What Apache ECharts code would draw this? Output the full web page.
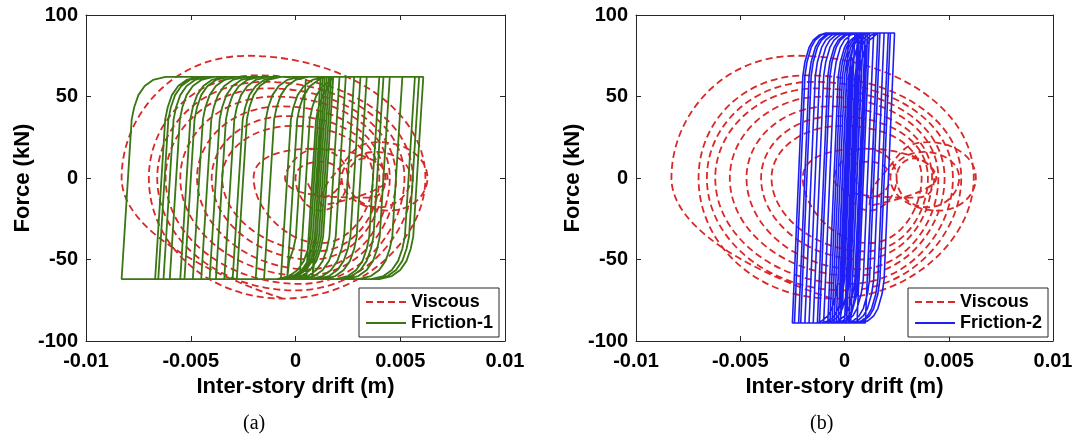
<!DOCTYPE html>
<html>
<head>
<meta charset="utf-8">
<script src="https://cdn.jsdelivr.net/npm/echarts@6.0.0/dist/echarts.min.js"></script>
<style>
html,body{margin:0;padding:0;background:#fff;}
#chart{width:1076px;height:437px;}
</style>
</head>
<body>
<div id="chart"></div>
<script>
// ---- axis settings ----
const xRange = [-0.01, 0.01];
const xStep = 0.005;
const yRange = [-100, 100];
const yStep = 50;
const xTitle = 'Inter-story drift (m)';
const yTitle = 'Force (kN)';
const panelCaptions = ['(a)', '(b)'];
const legendA = ['Viscous', 'Friction-1'];
const legendB = ['Viscous', 'Friction-2'];

// ---- viscous damper loops: turning points (left, top, right, bottom) ----
const viscousTurns = [
  [-0.0006, -74],
  [-0.0083, 0], [-0.0023, 75], [0.0062, 0], [-0.0006, -74],
  [-0.0070, 0], [-0.0018, 63], [0.0056, 0], [0.0000, -69],
  [-0.0066, 0], [-0.0015, 59], [0.0052, 0], [0.0002, -65],
  [-0.0062, 0], [-0.0013, 55], [0.0048, 0], [0.0004, -60],
  [-0.0055, 0], [-0.0010, 50], [0.0045, 0], [0.0006, -56],
  [-0.0047, 0], [-0.0007, 44], [0.0042, 0], [0.0008, -50],
  [-0.0040, 0], [-0.0004, 38], [0.0040, 0], [0.0010, -45],
  [-0.0035, 0], [-0.0001, 32], [0.0037, 0], [0.0012, -40],
  [-0.0020, 0], [0.0010, 18], [0.0044, 0], [0.0012, -17],
  [0.0017, 0], [0.0040, 22], [0.0063, 0], [0.0045, -20],
  [0.0022, 0], [0.0038, 16], [0.0055, 0], [0.0040, -18],
  [0.0025, 0], [0.0033, 12], [0.0043, 0], [0.0035, -12],
  [-0.0005, 0], [0.0010, 18], [0.0025, 0], [0.0012, -20],
  [0.0000, 0], [0.0012, 10], [0.0022, 0], [0.0012, -12], [0.0005, 0]
];

// ---- friction damper 1: slip force and reversal points ----
const friction1Force = 62;
const friction1Turns = [
  [0.0002, -62], [0.0018, 62], [-0.0007, -62], [0.0024, 62], [-0.0015, -62], [0.0034, 62],
  [-0.0030, -62], [0.0051, 62], [-0.0055, -62], [0.0061, 62], [-0.0083, -62], [0.0057, 62],
  [-0.0067, -62], [0.0059, 62], [-0.0063, -62], [0.0045, 62], [-0.0060, -62], [0.0042, 62],
  [-0.00655, -62], [0.0040, 62], [-0.0053, -62], [0.0031, 62], [-0.0049, -62], [0.0028, 62],
  [-0.0045, -62], [0.0021, 62], [-0.0041, -62], [0.0015, 62], [-0.0038, -62], [0.0012, 62],
  [-0.0034, -62], [0.0016, 62], [-0.0028, -62], [0.0014, 62], [-0.0019, -62], [0.0005, 62],
  [-0.0004, -62], [0.0013, 62], [0.0005, -62], [0.0017, 62], [0.0008, -62], [0.0014, 62],
  [0.0009, -40], [0.0013, 42], [0.0010, -10]
];
// branch shape after a reversal (drift offset, fraction of the force range), read from the outer loop
const friction1Knee = [[0, 0], [0.00048, 0.79], [0.0006, 0.85], [0.0008, 0.91], [0.0011, 0.955], [0.0015, 0.985], [0.0021, 1]];

// ---- friction damper 2 ----
const friction2Force = 89;
const friction2Turns = [
  [-0.0002, -89], [0.0012, 89], [-0.0007, -89], [0.0017, 89], [-0.0013, -89], [0.0021, 89],
  [-0.0019, -89], [0.0024, 89], [-0.0025, -89], [0.0022, 89], [-0.0024, -89], [0.0019, 89],
  [-0.0022, -89], [0.0014, 89], [-0.0021, -89], [0.0010, 89], [-0.0017, -89], [0.0007, 89],
  [-0.0015, -89], [0.0005, 89], [-0.0012, -89], [0.0012, 89], [-0.0010, -89], [0.0017, 89],
  [-0.0005, -89], [0.0014, 89], [0.0000, -89], [0.0019, 89], [-0.0008, -89], [0.0002, 89],
  [-0.0013, -89], [0.0010, 89], [0.0005, -61], [0.0010, 80], [0.0002, -89], [0.0016, 89],
  [0.0011, -62], [0.0015, 60], [0.0001, -89], [0.0009, 89], [0.0004, -60], [0.0008, 64],
  [-0.0004, -89], [0.0011, 89], [0.0006, -62], [0.0011, 86], [-0.0003, -89], [0.0004, 70],
  [-0.0001, -80], [0.0004, 74], [-0.0006, -89], [0.0008, 89], [0.0003, -60], [0.0007, 60],
  [0.0002, -60], [0.0007, 85], [0.0001, -85], [0.0006, 70], [0.0001, -75], [0.0005, 50],
  [0.0001, -70], [0.0012, 89], [0.0007, -60], [0.0011, 60], [-0.0003, -89], [0.0003, 72],
  [-0.0002, -80], [0.0009, 89]
];
const friction2Knee = [[0, 0], [0.0005, 0.85], [0.0006, 0.9], [0.0008, 0.95], [0.001, 0.975], [0.0013, 0.993], [0.0016, 1]];

// build the friction path table from reversal points + branch shape
function buildFrictionPath(turns, knee, force) {
  const path = [turns[0].slice()];
  for (let i = 0; i < turns.length - 1; i++) {
    const x0 = turns[i][0], y0 = turns[i][1];
    const x1 = turns[i + 1][0], y1 = turns[i + 1][1];
    const s = x1 > x0 ? 1 : -1;
    for (let k = 1; k < knee.length; k++) {
      const x = x0 + s * knee[k][0];
      let y = y0 + s * knee[k][1] * 2 * force;
      y = Math.max(-force, Math.min(force, y));
      if (s * (x - x1) >= 0 || s * (y - y1) > 1e-9) break;
      path.push([x, y]);
    }
    path.push([x1, y1]);
  }
  return path;
}

const RED = '#d82828', GREEN = '#3a7612', BLUE = '#1e1ef5';
const AXIS = '#262626';
const SANS = '"Liberation Sans", Arial, sans-serif';

const grids = [
  {left: 86, top: 15, width: 419, height: 326},
  {left: 636, top: 15, width: 417, height: 326}
];

function xAxes(gi) {
  const base = {
    gridIndex: gi, type: 'value', min: xRange[0], max: xRange[1], interval: xStep,
    splitLine: {show: false},
    axisLine: {show: true, onZero: false, lineStyle: {color: AXIS, width: 1}},
    axisTick: {show: true, inside: true, length: 5, lineStyle: {color: AXIS}}
  };
  return [
    Object.assign({}, base, {
      position: 'bottom',
      axisLabel: {color: '#000', fontSize: 20, fontWeight: 'bold', fontFamily: SANS, margin: 10},
      name: xTitle, nameLocation: 'middle', nameGap: 34,
      nameTextStyle: {color: '#000', fontSize: 22, fontWeight: 'bold', fontFamily: SANS}
    }),
    Object.assign({}, base, {position: 'top', axisLabel: {show: false}})
  ];
}
function yAxes(gi) {
  const base = {
    gridIndex: gi, type: 'value', min: yRange[0], max: yRange[1], interval: yStep,
    splitLine: {show: false},
    axisLine: {show: true, onZero: false, lineStyle: {color: AXIS, width: 1}},
    axisTick: {show: true, inside: true, length: 5, lineStyle: {color: AXIS}}
  };
  return [
    Object.assign({}, base, {
      position: 'left',
      axisLabel: {color: '#000', fontSize: 20, fontWeight: 'bold', fontFamily: SANS, margin: 8},
      name: yTitle, nameLocation: 'middle', nameGap: 52,
      nameTextStyle: {color: '#000', fontSize: 22, fontWeight: 'bold', fontFamily: SANS}
    }),
    Object.assign({}, base, {position: 'right', axisLabel: {show: false}})
  ];
}

function legendFor(names, left) {
  return {
    data: names, orient: 'vertical', left: left, top: 288,
    backgroundColor: '#fff', borderColor: AXIS, borderWidth: 1,
    padding: [5, 6, 5, 6], itemGap: 3, itemWidth: 40, itemHeight: 14,
    itemStyle: {color: 'rgba(0,0,0,0)', borderColor: 'rgba(0,0,0,0)', borderWidth: 0},
    textStyle: {color: '#000', fontSize: 18, fontWeight: 'bold', fontFamily: SANS}
  };
}

function lineSeries(name, data, axis, color, dashed, smooth, z, width) {
  return {
    name: name, type: 'line', xAxisIndex: axis, yAxisIndex: axis, data: data,
    symbol: 'none', showSymbol: false, smooth: smooth, z: z,
    itemStyle: {color: color},
    lineStyle: {color: color, width: width, type: dashed ? [7, 4] : 'solid'},
    emphasis: {disabled: true}
  };
}

const chart = echarts.init(document.getElementById('chart'), null, {renderer: 'canvas'});
chart.setOption({
  animation: false,
  backgroundColor: '#fff',
  grid: grids,
  xAxis: xAxes(0).concat(xAxes(1)),
  yAxis: yAxes(0).concat(yAxes(1)),
  legend: [legendFor(legendA, 359), legendFor(legendB, 908)],
  series: [
    lineSeries('Viscous', viscousTurns, 0, RED, true, 0.55, 2, 1.8),
    lineSeries('Friction-1', buildFrictionPath(friction1Turns, friction1Knee, friction1Force), 0, GREEN, false, false, 3, 1.8),
    lineSeries('Viscous', viscousTurns, 2, RED, true, 0.55, 2, 1.8),
    lineSeries('Friction-2', buildFrictionPath(friction2Turns, friction2Knee, friction2Force), 2, BLUE, false, false, 3, 1.6)
  ],
  graphic: [
    {type: 'text', left: 243, top: 414, style: {text: panelCaptions[0], font: '20px "Liberation Serif", "Times New Roman", serif', fill: '#000'}},
    {type: 'text', left: 810, top: 414, style: {text: panelCaptions[1], font: '20px "Liberation Serif", "Times New Roman", serif', fill: '#000'}}
  ]
});
</script>
</body>
</html>
